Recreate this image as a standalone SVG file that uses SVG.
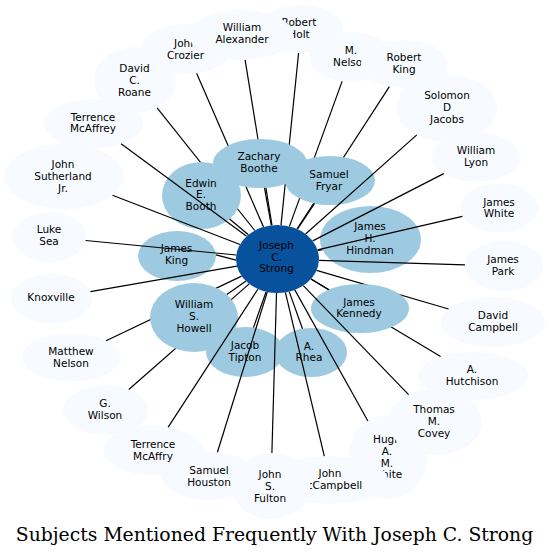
<svg xmlns="http://www.w3.org/2000/svg" width="551" height="556" viewBox="0 0 551 556">
<style>
.outer{fill:#f7fbff}
.inner{fill:#9ecae1}
.center{fill:#08519c}
.lbl{font-family:"DejaVu Sans","Liberation Sans",sans-serif;font-size:10.5px;text-anchor:middle;fill:#000}
.edge{stroke:#000;stroke-width:1.2;fill:none}
.title{font-family:"DejaVu Serif","Liberation Serif",serif;font-size:18.8px;text-anchor:middle;fill:#000}
</style>
<rect width="551" height="556" fill="#fff"/>
<g id="outer-nodes">
<g id="robert-holt"><ellipse class="outer" cx="301" cy="29" rx="42" ry="24"/><text class="lbl"><tspan x="299" y="25.9">Robert</tspan><tspan x="299" y="37.6">Holt</tspan></text></g>
<g id="john-crozier"><ellipse class="outer" cx="186" cy="49" rx="45" ry="25"/><text class="lbl"><tspan x="185.5" y="46.9">John</tspan><tspan x="185.5" y="58.6">Crozier</tspan></text></g>
<g id="william-alexander"><ellipse class="outer" cx="241" cy="35" rx="52" ry="25"/><text class="lbl"><tspan x="242" y="30.9">William</tspan><tspan x="242" y="42.6">Alexander</tspan></text></g>
<g id="david-roane"><ellipse class="outer" cx="135" cy="80" rx="41" ry="33"/><text class="lbl"><tspan x="134.5" y="72.1">David</tspan><tspan x="134.5" y="83.8">C.</tspan><tspan x="134.5" y="95.5">Roane</tspan></text></g>
<g id="terrence-mcaffrey"><ellipse class="outer" cx="93.5" cy="123.5" rx="49.5" ry="24.5"/><text class="lbl"><tspan x="93" y="120.5">Terrence</tspan><tspan x="93" y="132.2">McAffrey</tspan></text></g>
<g id="john-sutherland"><ellipse class="outer" cx="64" cy="176.5" rx="59" ry="33"/><text class="lbl"><tspan x="63" y="168.1">John</tspan><tspan x="63" y="179.8">Sutherland</tspan><tspan x="63" y="191.5">Jr.</tspan></text></g>
<g id="luke-sea"><ellipse class="outer" cx="49.5" cy="237" rx="36.5" ry="25"/><text class="lbl"><tspan x="49" y="233">Luke</tspan><tspan x="49" y="244.7">Sea</tspan></text></g>
<g id="knoxville"><ellipse class="outer" cx="51.5" cy="298.5" rx="40.5" ry="24.5"/><text class="lbl"><tspan x="51" y="300.8">Knoxville</tspan></text></g>
<g id="matthew-nelson"><ellipse class="outer" cx="71" cy="357.5" rx="49" ry="24"/><text class="lbl"><tspan x="71" y="355">Matthew</tspan><tspan x="71" y="366.7">Nelson</tspan></text></g>
<g id="g-wilson"><ellipse class="outer" cx="105.5" cy="410" rx="42.5" ry="24.5"/><text class="lbl"><tspan x="105" y="407">G.</tspan><tspan x="105" y="418.7">Wilson</tspan></text></g>
<g id="samuel-houston"><ellipse class="outer" cx="210" cy="476" rx="48" ry="24"/><text class="lbl"><tspan x="209" y="474">Samuel</tspan><tspan x="209" y="485.7">Houston</tspan></text></g>
<g id="terrence-mcaffry"><ellipse class="outer" cx="153" cy="450.5" rx="49.5" ry="24.5"/><text class="lbl"><tspan x="153" y="448">Terrence</tspan><tspan x="153" y="459.7">McAffry</tspan></text></g>
<g id="hugh-white"><ellipse class="outer" cx="388" cy="457" rx="39" ry="42"/><text class="lbl"><tspan x="387" y="443.2">Hugh</tspan><tspan x="387" y="454.9">A.</tspan><tspan x="387" y="466.6">M.</tspan><tspan x="387" y="478.3">White</tspan></text></g>
<g id="john-mccampbell"><ellipse class="outer" cx="330" cy="480" rx="58" ry="24"/><text class="lbl"><tspan x="330" y="476.9">John</tspan><tspan x="330" y="488.6">McCampbell</tspan></text></g>
<g id="john-fulton"><ellipse class="outer" cx="271" cy="486" rx="39.5" ry="33"/><text class="lbl"><tspan x="270" y="478.1">John</tspan><tspan x="270" y="489.8">S.</tspan><tspan x="270" y="501.5">Fulton</tspan></text></g>
<g id="thomas-covey"><ellipse class="outer" cx="435" cy="422" rx="47" ry="33"/><text class="lbl"><tspan x="434" y="413.1">Thomas</tspan><tspan x="434" y="424.8">M.</tspan><tspan x="434" y="436.5">Covey</tspan></text></g>
<g id="a-hutchison"><ellipse class="outer" cx="473" cy="376" rx="55" ry="24"/><text class="lbl"><tspan x="472" y="373.4">A.</tspan><tspan x="472" y="385.1">Hutchison</tspan></text></g>
<g id="david-campbell"><ellipse class="outer" cx="493" cy="322" rx="52" ry="25"/><text class="lbl"><tspan x="493" y="319">David</tspan><tspan x="493" y="330.7">Campbell</tspan></text></g>
<g id="james-park"><ellipse class="outer" cx="504" cy="266" rx="39" ry="25"/><text class="lbl"><tspan x="503" y="263">James</tspan><tspan x="503" y="274.7">Park</tspan></text></g>
<g id="james-white"><ellipse class="outer" cx="499" cy="208" rx="39" ry="24.5"/><text class="lbl"><tspan x="499" y="205.5">James</tspan><tspan x="499" y="217.2">White</tspan></text></g>
<g id="william-lyon"><ellipse class="outer" cx="476" cy="157" rx="44" ry="24.5"/><text class="lbl"><tspan x="476" y="154">William</tspan><tspan x="476" y="165.7">Lyon</tspan></text></g>
<g id="solomon-jacobs"><ellipse class="outer" cx="447" cy="108" rx="50.5" ry="33.5"/><text class="lbl"><tspan x="447" y="99.1">Solomon</tspan><tspan x="447" y="110.8">D</tspan><tspan x="447" y="122.5">Jacobs</tspan></text></g>
<g id="m-nelson"><ellipse class="outer" cx="351" cy="57" rx="41" ry="25"/><text class="lbl"><tspan x="351" y="54">M.</tspan><tspan x="351" y="65.7">Nelson</tspan></text></g>
<g id="robert-king"><ellipse class="outer" cx="404" cy="64" rx="43" ry="24"/><text class="lbl"><tspan x="404" y="61">Robert</tspan><tspan x="404" y="72.7">King</tspan></text></g>
</g>
<g id="connectors-under">
<path class="edge" d="M272.0,225.3L245.1,59.9"/>
<path class="edge" d="M281.0,225.1L298.6,53.0"/>
<path class="edge" d="M263.5,227.0L196.6,73.3"/>
<path class="edge" d="M254.8,230.5L157.1,107.8"/>
<path class="edge" d="M289.4,226.4L342.1,81.4"/>
<path class="edge" d="M297.0,229.0L389.4,86.6"/>
<path class="edge" d="M241.6,276.1L106.1,340.8"/>
<path class="edge" d="M249.2,283.9L128.8,389.5"/>
<path class="edge" d="M316.6,270.4L448.6,309.0"/>
<path class="edge" d="M311.0,279.1L440.6,356.6"/>
</g>
<g id="inner-nodes">
<g id="zachary-boothe"><ellipse class="inner" cx="260" cy="163.5" rx="47" ry="24.5"/><text class="lbl"><tspan x="259" y="160.4">Zachary</tspan><tspan x="259" y="172.1">Boothe</tspan></text></g>
<g id="samuel-fryar"><ellipse class="inner" cx="330" cy="180.5" rx="45" ry="24.5"/><text class="lbl"><tspan x="329" y="177.9">Samuel</tspan><tspan x="329" y="189.6">Fryar</tspan></text></g>
<g id="edwin-booth"><ellipse class="inner" cx="201.5" cy="195.5" rx="39.5" ry="33.5"/><text class="lbl"><tspan x="201" y="186.6">Edwin</tspan><tspan x="201" y="198.3">E.</tspan><tspan x="201" y="210">Booth</tspan></text></g>
<g id="james-hindman"><ellipse class="inner" cx="370.5" cy="239.5" rx="50.5" ry="33.5"/><text class="lbl"><tspan x="370" y="230.4">James</tspan><tspan x="370" y="242.1">H.</tspan><tspan x="370" y="253.8">Hindman</tspan></text></g>
<g id="james-king"><ellipse class="inner" cx="177" cy="256" rx="39" ry="25"/><text class="lbl"><tspan x="176.5" y="252">James</tspan><tspan x="176.5" y="263.7">King</tspan></text></g>
<g id="william-howell"><ellipse class="inner" cx="194" cy="317.5" rx="44" ry="34.5"/><text class="lbl"><tspan x="194" y="308.1">William</tspan><tspan x="194" y="319.8">S.</tspan><tspan x="194" y="331.5">Howell</tspan></text></g>
<g id="james-kennedy"><ellipse class="inner" cx="360" cy="308.5" rx="49" ry="24.5"/><text class="lbl"><tspan x="359" y="305.5">James</tspan><tspan x="359" y="317.2">Kennedy</tspan></text></g>
<g id="jacob-tipton"><ellipse class="inner" cx="245" cy="352" rx="39" ry="25"/><text class="lbl"><tspan x="245" y="349">Jacob</tspan><tspan x="245" y="360.7">Tipton</tspan></text></g>
<g id="a-rhea"><ellipse class="inner" cx="311" cy="352.5" rx="36" ry="24.5"/><text class="lbl"><tspan x="309" y="349.5">A.</tspan><tspan x="309" y="361.2">Rhea</tspan></text></g>
</g>
<g id="connectors-over">
<path class="edge" d="M246.6,236.3L121.1,143.8"/>
<path class="edge" d="M240.0,244.5L112.5,195.3"/>
<path class="edge" d="M236.3,255.0L85.6,240.5"/>
<path class="edge" d="M236.9,266.1L90.4,291.7"/>
<path class="edge" d="M258.0,289.0L168.2,427.2"/>
<path class="edge" d="M267.3,292.0L217.4,452.3"/>
<path class="edge" d="M276.5,293.0L271.9,453.0"/>
<path class="edge" d="M285.4,292.4L324.3,456.1"/>
<path class="edge" d="M294.8,289.9L367.9,421.0"/>
<path class="edge" d="M303.3,285.7L408.6,394.7"/>
<path class="edge" d="M319.0,260.3L465.0,264.8"/>
<path class="edge" d="M317.5,249.8L462.4,216.4"/>
<path class="edge" d="M312.7,240.9L443.7,173.6"/>
<path class="edge" d="M305.6,234.0L416.8,134.9"/>
<path class="edge" d="M271.3,225.4L264.5,187.9"/>
<path class="edge" d="M297.4,229.2L314.6,203.5"/>
<path class="edge" d="M248.4,234.7L229.6,219.0"/>
<path class="edge" d="M317.7,250.6L322.3,249.6"/>
<path class="edge" d="M236.0,260.2L216.0,254.8"/>
<path class="edge" d="M246.0,281.1L226.8,294.5"/>
<path class="edge" d="M311.0,279.1L328.6,289.7"/>
<path class="edge" d="M266.1,291.7L253.5,327.6"/>
<path class="edge" d="M289.2,291.6L302.5,328.7"/>
</g>
<g id="joseph-strong"><ellipse class="center" cx="277.5" cy="259" rx="41.5" ry="34"/><text class="lbl"><tspan x="276.5" y="248.8">Joseph</tspan><tspan x="276.5" y="260.5">C.</tspan><tspan x="276.5" y="272.2">Strong</tspan></text></g>
<text class="title" x="274.5" y="541">Subjects Mentioned Frequently With Joseph C. Strong</text>
</svg>
